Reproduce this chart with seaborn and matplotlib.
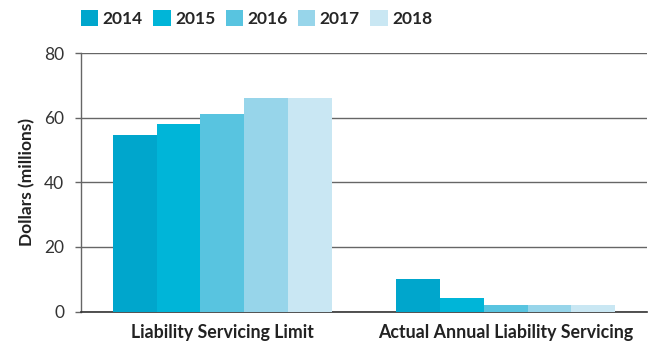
import matplotlib
matplotlib.use("Agg")
import matplotlib.pyplot as plt
import seaborn as sns
import pandas as pd

categories = ["Liability Servicing Limit", "Actual Annual Liability Servicing"]
years = ["2014", "2015", "2016", "2017", "2018"]
limit_values = [54.5, 58.0, 61.0, 66.0, 66.0]
actual_values = [10.2, 4.3, 2.1, 2.1, 1.9]
colors = ["#00A6CC", "#00B5D8", "#58C4E0", "#97D5EA", "#C9E7F3"]
yticks = [0, 20, 40, 60, 80]

sns.set_theme(style="white")
plt.rcParams["font.family"] = ["Lato", "DejaVu Sans"]

rows = []
for y, lv, av in zip(years, limit_values, actual_values):
    rows.append({"category": categories[0], "year": y, "value": lv})
    rows.append({"category": categories[1], "year": y, "value": av})
df = pd.DataFrame(rows)

fig, ax = plt.subplots(figsize=(6.57, 3.54), dpi=100)
fig.subplots_adjust(left=0.123, right=0.985, top=0.85, bottom=0.12)

sns.barplot(data=df, x="category", y="value", hue="year", order=categories,
            hue_order=years, palette=colors, width=0.775, saturation=1,
            linewidth=0, ax=ax, zorder=3)

ax.set_ylim(0, 80)
ax.set_xlim(-0.5, 1.5)
ax.set_yticks(yticks)
ax.set_yticklabels([str(t) for t in yticks], fontsize=12.5, color="#333333")
ax.yaxis.grid(True, color="#666666", linewidth=1.0, zorder=0)
ax.set_axisbelow(True)
ax.tick_params(axis="y", length=4, width=1, color="#666666", pad=8, left=True)
ax.tick_params(axis="x", length=0, pad=9)
for lbl in ax.get_xticklabels():
    lbl.set_fontsize(12.8)
    lbl.set_fontweight("bold")
    lbl.set_color("#222222")
ax.set_xlabel("")
ax.set_ylabel("Dollars (millions)", fontsize=12.5, fontweight="bold",
              color="#222222", labelpad=6)

for side in ["top", "right"]:
    ax.spines[side].set_visible(False)
ax.spines["left"].set_color("#666666")
ax.spines["left"].set_linewidth(1.0)
ax.spines["bottom"].set_color("#333333")
ax.spines["bottom"].set_linewidth(1.2)

handles, labels = ax.get_legend_handles_labels()
ax.legend(handles, labels, loc="lower left", bbox_to_anchor=(-0.012, 1.075),
          ncol=5, frameon=False, handlelength=1.0, handleheight=1.0,
          handletextpad=0.25, columnspacing=0.6,
          prop={"size": 12.5, "weight": "bold"}, borderaxespad=0)

fig.savefig("out.png", dpi=100)
